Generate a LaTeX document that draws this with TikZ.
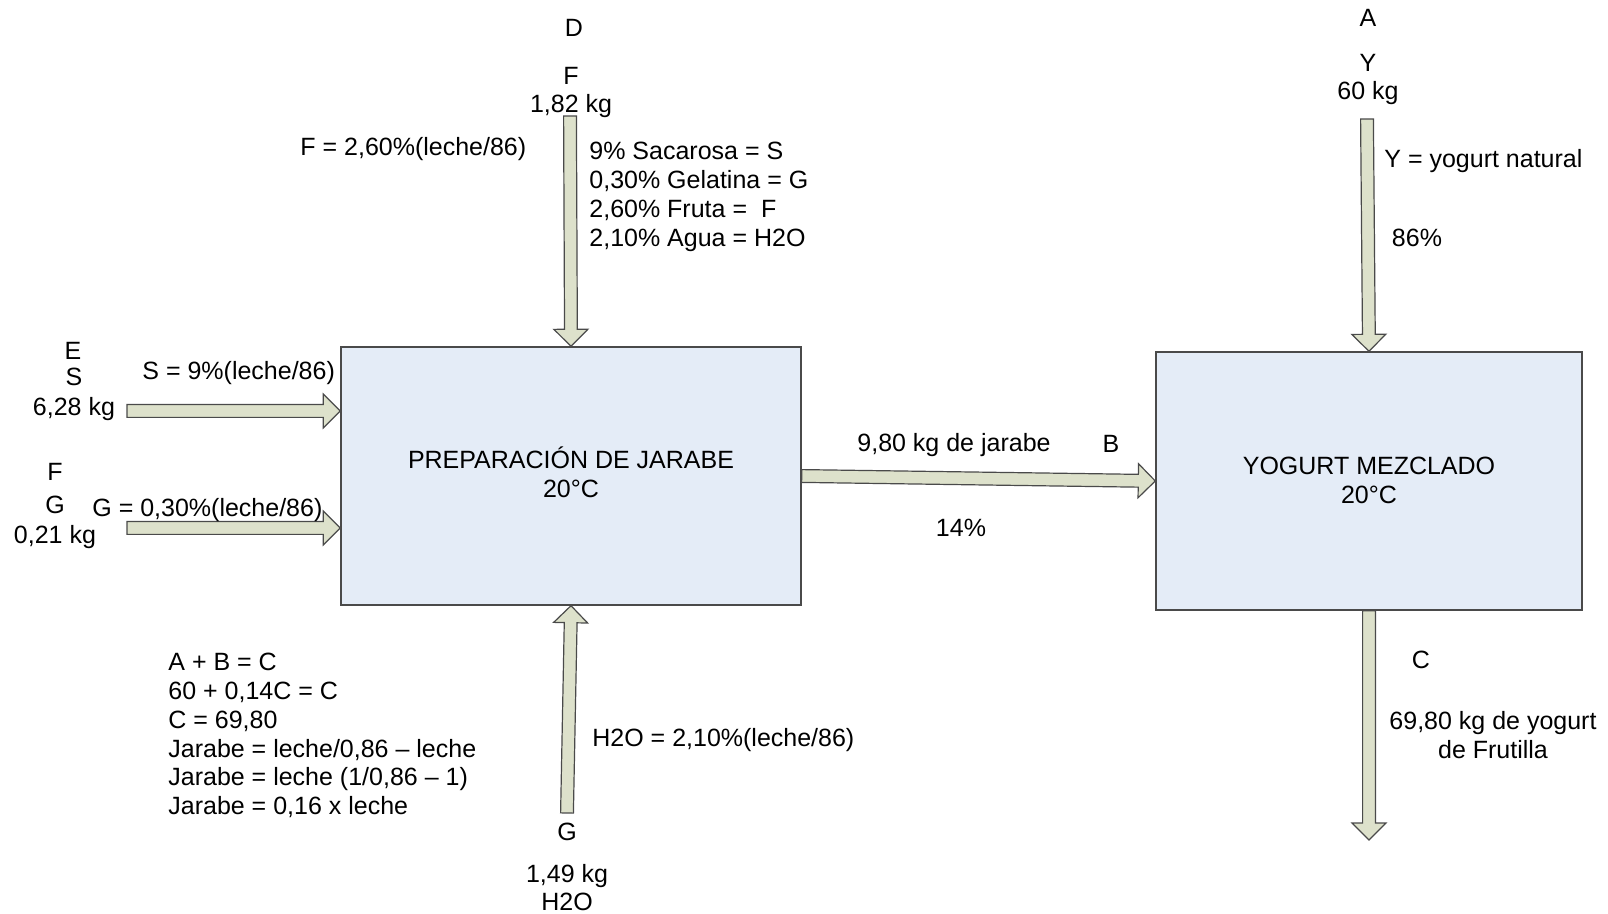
\documentclass[tikz,border=0pt]{standalone}
\usepackage{fontspec}
\setmainfont{Liberation Sans}
\usetikzlibrary{calc}
\definecolor{boxfill}{HTML}{E4ECF7}
\definecolor{arrfill}{HTML}{DDE1CB}
\definecolor{edge}{HTML}{4A4A4A}
\tikzset{
  txt/.style={inner sep=0pt, font=\fontsize{12.5pt}{14.4pt}\selectfont},
  lefttxt/.style={txt, anchor=west, align=left},
  ctrtxt/.style={txt, align=center},
  procbox/.style={draw=edge, fill=boxfill, line width=0.7pt, inner sep=0pt},
  blockarr/.style={draw=edge, fill=arrfill, line width=0.6pt, line join=miter}
}
\newcommand{\blockarrow}[2]{%
  \draw[blockarr] let \p1=($(#2)-(#1)$), \n1={veclen(\x1,\y1)}, \n2={atan2(\y1,\x1)} in
    [shift={(#1)}, rotate=\n2]
    (0pt,-3.2pt) -- ({\n1*1pt-8.5pt},-3.2pt) -- ({\n1*1pt-8.5pt},-8.5pt) -- ({\n1*1pt},0pt)
    -- ({\n1*1pt-8.5pt},8.5pt) -- ({\n1*1pt-8.5pt},3.2pt) -- (0pt,3.2pt) -- cycle;}
\begin{document}
\begin{tikzpicture}[x=0.5pt, y=-0.5pt]
\useasboundingbox (0,0) rectangle (1608,914);

% process boxes
\node[procbox, minimum width=230pt, minimum height=129pt] (b1) at (571,476) {};
\node[procbox, minimum width=213pt, minimum height=129pt] (b2) at (1369,481) {};
\node[ctrtxt] (b1txt) at (571,472) {PREPARACIÓN DE JARABE\\20°C};
\node[ctrtxt] (b2txt) at (1369,480) {YOGURT MEZCLADO\\20°C};

% arrow end coordinates
\coordinate (dTop) at (570,116);
\coordinate (sStart) at (127,411);
\coordinate (gStart) at (127,528);
\coordinate (wStart) at (567,813);
\coordinate (yTop) at (1367,119);
\coordinate (cEnd) at (1369,840);

\blockarrow{dTop}{b1.north}
\blockarrow{sStart}{b1.west |- sStart}
\blockarrow{gStart}{b1.west |- gStart}
\blockarrow{wStart}{b1.south}
\blockarrow{b1.east}{b2.west}
\blockarrow{yTop}{b2.north}
\blockarrow{b2.south}{cEnd}

% top stream labels
\node[ctrtxt] (tD) at (574,28) {D};
\node[ctrtxt] (tF) at (571,76) {F};
\node[ctrtxt] (tFkg) at (571,106.5) {1,82 kg};
\node[lefttxt] (tFeq) at (300,149.5) {F = 2,60\%(leche/86)};
\node[lefttxt] (tComp) at (589,197)
  {9\% Sacarosa = S\\0,30\% Gelatina = G\\2,60\% Fruta = \ F\\2,10\% Agua = H2O};

% yogurt stream labels
\node[ctrtxt] (tA) at (1368,18) {A};
\node[ctrtxt] (tY) at (1368,63) {Y};
\node[ctrtxt] (tYkg) at (1368,93) {60 kg};
\node[lefttxt] (tYeq) at (1384,161) {Y = yogurt natural};
\node[ctrtxt] (t86) at (1417,238) {86\%};

% left stream labels
\node[ctrtxt] (tE) at (73,351) {E};
\node[ctrtxt] (tS) at (74,377) {S};
\node[ctrtxt] (tSkg) at (74,409) {6,28 kg};
\node[lefttxt] (tSeq) at (142,373) {S = 9\%(leche/86)};
\node[ctrtxt] (tF2) at (55,472) {F};
\node[ctrtxt] (tG) at (55,505) {G};
\node[ctrtxt] (tGkg) at (55,537) {0,21 kg};
\node[lefttxt] (tGeq) at (92,510) {G = 0,30\%(leche/86)};

% middle stream labels
\node[ctrtxt] (tJar) at (954,445) {9,80 kg de jarabe};
\node[ctrtxt] (tB) at (1111,444) {B};
\node[ctrtxt] (t14) at (961,528) {14\%};

% equations
\node[lefttxt] (tEqs) at (168,735.5)
  {A + B = C\\60 + 0,14C = C\\C = 69,80\\Jarabe = leche/0,86 -- leche\\Jarabe = leche (1/0,86 -- 1)\\Jarabe = 0,16 x leche};

% water stream labels
\node[lefttxt] (tWeq) at (592,740) {H2O = 2,10\%(leche/86)};
\node[ctrtxt] (tG2) at (567,832) {G};
\node[ctrtxt] (tWkg) at (567,876) {1,49 kg};
\node[ctrtxt] (tW) at (567,902) {H2O};

% product labels
\node[ctrtxt] (tC) at (1421,660) {C};
\node[ctrtxt] (tCkg) at (1493,735) {69,80 kg de yogurt\\de Frutilla};
\end{tikzpicture}
\end{document}
